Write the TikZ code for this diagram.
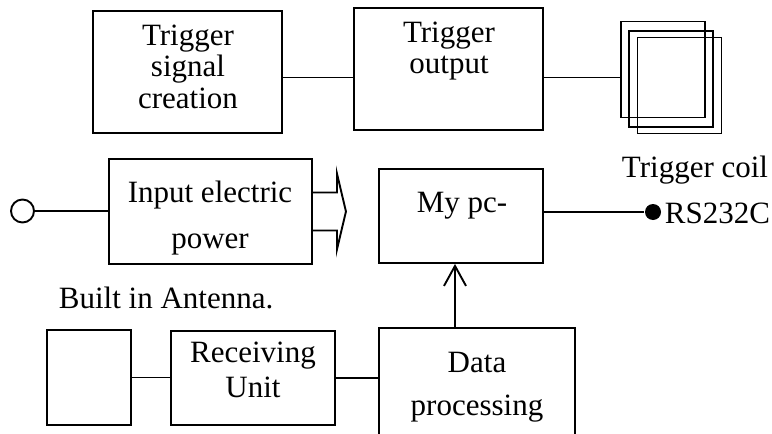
\documentclass[tikz,border=0pt]{standalone}
\usepackage{fontspec}
\setmainfont{Liberation Serif}
\usetikzlibrary{arrows.meta}
\begin{document}
\begin{tikzpicture}[x=1pt,y=-1pt,line width=1.9pt,
	blk/.style={draw,rectangle,inner sep=0pt},
	txt/.style={anchor=base,align=center,inner sep=0pt},
	lbl/.style={anchor=base west,inner sep=0pt,font=\fontsize{31}{31}\selectfont}]
	\useasboundingbox (0,0) rectangle (772,434);
	% top row
	\node[blk,minimum width=189pt,minimum height=122pt] (gen) at (187.5,72) {};
	\node[txt,font=\fontsize{31}{31.5}\selectfont] (gent) at (188,108) {Trigger\\signal\\creation};
	\node[blk,minimum width=189pt,minimum height=122pt] (out) at (448.5,69) {};
	\node[txt,font=\fontsize{31}{31}\selectfont] (outt) at (449,73) {Trigger\\output};
	\foreach \i/\cx/\cy in {1/663/69.5,2/671/79,3/679.5/85.5}
		\node[blk,minimum width=84pt,minimum height=96pt] (coil\i) at (\cx,\cy) {};
	\coordinate (trig) at (0,77.5);
	\draw (gen.east |- trig) -- (out.west |- trig);
	\draw (out.east |- trig) -- (coil1.west |- trig);
	\node[lbl] (coilt) at (621,177) {Trigger coil};
	% middle row
	\node[circle,draw,inner sep=0pt,minimum size=23pt] (src) at (22.5,211) {};
	\node[blk,minimum width=203pt,minimum height=105pt] (inp) at (210.5,211.5) {};
	\node[txt,font=\fontsize{31}{46}\selectfont] (inpt) at (210,248) {Input electric\\power};
	\draw (src) -- (inp.west |- src);
	\draw (inp.east) ++(0,-19) -- ++(24,0) -- ++(0,-19) -- ++(9,38) -- ++(-9,38)
		-- ++(0,-19) -- ++(-24,0);
	\node[blk,minimum width=164pt,minimum height=94pt] (pc) at (461,216) {};
	\node[txt,font=\fontsize{31}{31}\selectfont] (pct) at (462,212) {My pc-};
	\node[circle,fill,inner sep=0pt,minimum size=16pt] (rs) at (653,212) {};
	\draw (rs -| pc.east) -- (rs);
	\node[lbl] (rst) at (664,223) {RS232C};
	% bottom row
	\node[lbl] (antt) at (58,308) {Built in Antenna.};
	\node[blk,minimum width=84pt,minimum height=95pt] (ant) at (89,377.5) {};
	\node[blk,minimum width=164pt,minimum height=94pt] (recv) at (253,378) {};
	\node[txt,font=\fontsize{31}{35}\selectfont] (recvt) at (253,397) {Receiving\\Unit};
	\node[blk,minimum width=196pt,minimum height=110pt] (data) at (477,383) {};
	\node[txt,font=\fontsize{31}{43}\selectfont] (datat) at (477,415) {Data\\processing};
	\draw (ant.east) -- (recv.west |- ant.east);
	\draw (recv.east) -- (data.west |- recv.east);
	\coordinate (up) at (455,0);
	\draw[-{Straight Barb[length=20pt,width=22pt]}] (data.north -| up) -- (pc.south -| up);
\end{tikzpicture}
\end{document}
